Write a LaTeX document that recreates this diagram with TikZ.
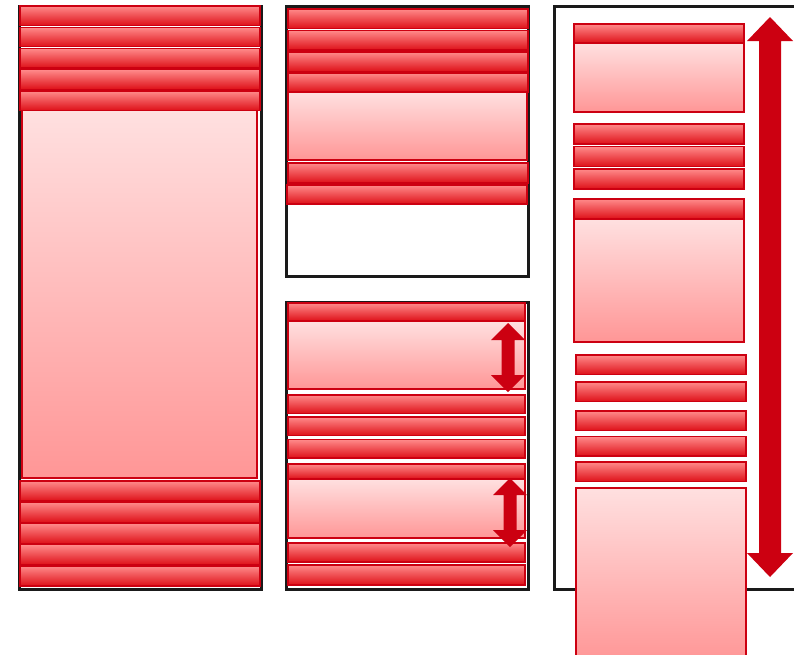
\documentclass[tikz,border=0pt]{standalone}
\usepackage{tikz}

\definecolor{barTop}{RGB}{255,138,138}
\definecolor{barBot}{RGB}{222,16,24}
\definecolor{paleTop}{RGB}{255,224,224}
\definecolor{paleBot}{RGB}{255,150,150}
\definecolor{barEdge}{RGB}{204,0,17}
\definecolor{frameGray}{RGB}{26,26,26}

% Vertical double arrow: centre x, top tip, bottom tip, head half-width, shaft half-width, head length.
\newcommand{\vdblarrow}[6]{%
  \fill[barEdge] (#1,#2) -- (#1+#4,#2+#6) -- (#1+#5,#2+#6) -- (#1+#5,#3-#6)
    -- (#1+#4,#3-#6) -- (#1,#3) -- (#1-#4,#3-#6) -- (#1-#5,#3-#6)
    -- (#1-#5,#2+#6) -- (#1-#4,#2+#6) -- cycle;}

\begin{document}
\begin{tikzpicture}[x=1pt,y=-1pt,
  frame/.style={draw=frameGray,line width=3pt},
  bar/.style={draw=barEdge,line width=1.1pt,top color=barTop,bottom color=barBot},
  pale/.style={draw=barEdge,line width=1.1pt,top color=paleTop,bottom color=paleBot}]
  \useasboundingbox (0,0) rectangle (794,654);
  \clip (0,0) rectangle (794,654);

  % Frames of the three layouts.
  \draw[frame] (19,6) rectangle (261,589);
  \draw[frame] (286,6) rectangle (528,276);
  \draw[frame] (286,302) rectangle (528,589);
  \draw[frame] (554,6) rectangle (800,589);

  % Left layout: five bars, one tall body, five bars.
  \foreach \y in {6,27.25,48.5,69.75} {
    \draw[bar] (20,\y) rectangle ++(240,19.5);
  }
  \draw[pale] (22,110) rectangle (257,478);
  \draw[bar] (20,91) rectangle ++(240,19.5);
  \foreach \y in {481,502.25,523.5,544.75,566} {
    \draw[bar] (20,\y) rectangle ++(240,20);
  }

  % Middle top layout.
  \foreach \y in {9,30.5,52} {
    \draw[bar] (288,\y) rectangle ++(240,19.5);
  }
  \draw[pale] (288,92) rectangle (527,160);
  \draw[bar] (288,73) rectangle ++(240,19);
  \draw[bar] (288,163) rectangle (528,183);
  \draw[bar] (287,185) rectangle (527,204);

  % Middle bottom layout, with two resizable bodies.
  \draw[pale] (288,321) rectangle (525,389);
  \draw[bar] (288,303) rectangle (525,321);
  \foreach \y in {395,417,439.5} {
    \draw[bar] (288,\y) rectangle ++(237,18.5);
  }
  \draw[pale] (288,479) rectangle (525,538);
  \draw[bar] (288,464) rectangle (525,479);
  \draw[bar] (288,543) rectangle (525,562);
  \draw[bar] (288,565) rectangle (525,585);
  \vdblarrow{508}{323}{392}{17}{6.5}{17}
  \vdblarrow{510}{478}{547}{17}{6.5}{17}

  % Right layout: stacked panels inside a scrolling column.
  \draw[pale] (574,43) rectangle (744,112);
  \draw[bar] (574,24) rectangle (744,43);
  \foreach \y in {124,146.5,169} {
    \draw[bar] (574,\y) rectangle ++(170,20);
  }
  \draw[pale] (574,219) rectangle (744,342);
  \draw[bar] (574,199) rectangle (744,219);
  \foreach \y in {355,382,411,436.5,462} {
    \draw[bar] (576,\y) rectangle ++(170,19.5);
  }
  \draw[pale] (576,488) rectangle (746,662);
  \vdblarrow{770}{17}{577}{23}{11}{24}
\end{tikzpicture}
\end{document}
